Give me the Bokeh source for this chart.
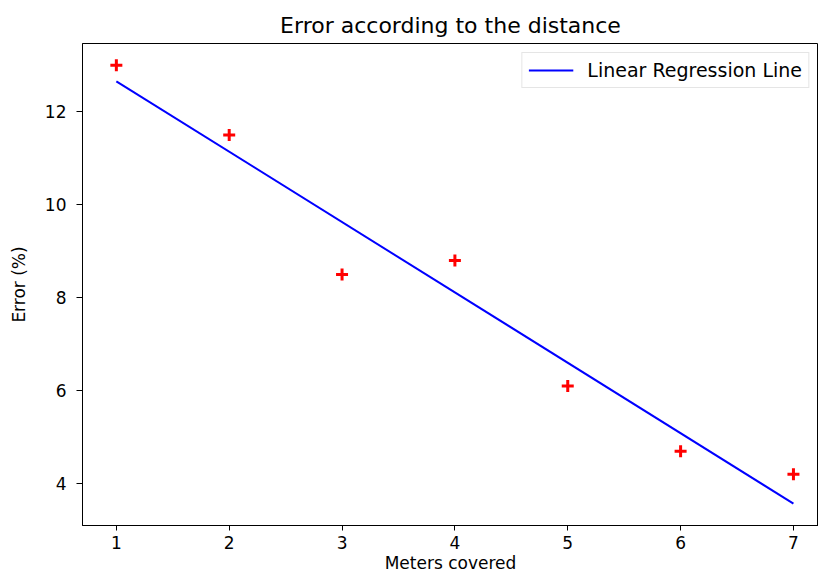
import numpy as np
from bokeh.plotting import figure
from bokeh.models import Range1d, Legend, LegendItem, FixedTicker
from bokeh.embed import file_html
from bokeh.resources import INLINE

meters = [1, 2, 3, 4, 5, 6, 7]
error_pct = [13.0, 11.5, 8.5, 8.8, 6.1, 4.7, 4.2]
x_ticks = [1, 2, 3, 4, 5, 6, 7]
y_ticks = [4, 6, 8, 10, 12]

slope, intercept = np.polyfit(meters, error_pct, 1)
line_x = [min(meters), max(meters)]
line_y = [slope * x + intercept for x in line_x]

FONT = "DejaVu Sans"

p = figure(width=818, height=579, output_backend="svg", toolbar_location=None,
           x_range=Range1d(0.7, 7.222), y_range=Range1d(3.10, 13.47),
           min_border_left=82, min_border_right=0, min_border_top=43,
           min_border_bottom=54, background_fill_color="white",
           border_fill_color="white")

p.title.text = "Error according to the distance"
p.title.align = "center"
p.title.text_font = FONT
p.title.text_font_size = "22px"
p.title.text_font_style = "normal"
p.title.text_color = "#000000"
p.title.offset = 5
p.title.standoff = 11

p.xgrid.visible = False
p.ygrid.visible = False
p.outline_line_color = "#000000"
p.outline_line_width = 1

for ax in (p.xaxis[0], p.yaxis[0]):
    ax.axis_line_color = "#000000"
    ax.major_tick_line_color = "#000000"
    ax.major_tick_out = 6
    ax.major_tick_in = 0
    ax.minor_tick_line_color = None
    ax.major_label_text_font = FONT
    ax.major_label_text_font_size = "17px"
    ax.major_label_text_color = "#000000"
    ax.axis_label_text_font = FONT
    ax.axis_label_text_font_size = "17px"
    ax.axis_label_text_font_style = "normal"
    ax.axis_label_text_color = "#000000"

p.xaxis.ticker = FixedTicker(ticks=x_ticks)
p.yaxis.ticker = FixedTicker(ticks=y_ticks)
p.xaxis.axis_label = "Meters covered"
p.yaxis.axis_label = "Error (%)"
p.xaxis.major_label_standoff = 5
p.yaxis.major_label_standoff = 10
p.xaxis.axis_label_standoff = 1
p.yaxis.axis_label_standoff = 13
p.xaxis.major_tick_out = 5

pts = p.scatter(meters, error_pct, marker="cross", size=12, line_width=3,
                line_color="#ff0000")
reg = p.line(line_x, line_y, line_color="#0000ff", line_width=2)

legend = Legend(items=[LegendItem(label="Linear Regression Line", renderers=[reg])],
                location="top_right")
legend.label_text_font = FONT
legend.label_text_font_size = "19px"
legend.label_text_color = "#000000"
legend.border_line_color = "#cccccc"
legend.border_line_width = 1
legend.glyph_width = 45
legend.label_standoff = 14
legend.padding = 6
legend.margin = 9
legend.spacing = 0
p.add_layout(legend)

open("out.html", "w").write(file_html(p, INLINE))
